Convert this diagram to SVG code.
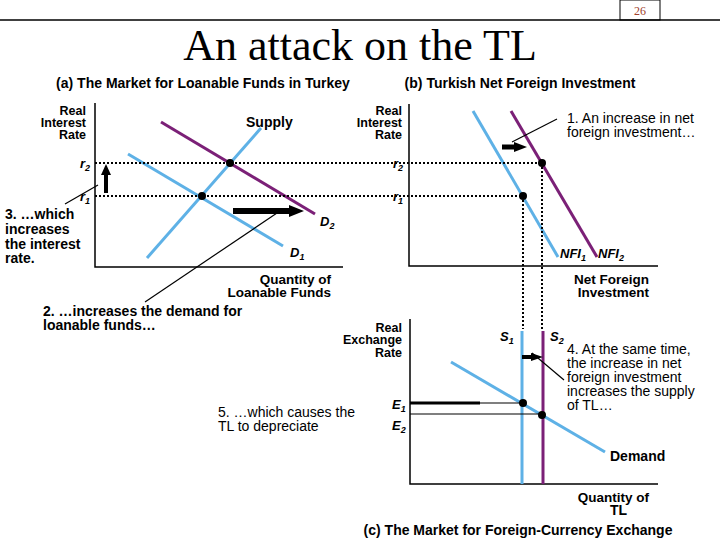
<svg xmlns="http://www.w3.org/2000/svg" width="720" height="540" viewBox="0 0 720 540">
<defs>
<style>
.b{font-family:"Liberation Sans",Arial,sans-serif;font-weight:bold;font-size:14px;fill:#000}
.q{font-family:"Liberation Sans",Arial,sans-serif;font-weight:bold;font-size:13.5px;fill:#000;text-anchor:end}
.h{font-family:"Liberation Sans",Arial,sans-serif;font-weight:bold;font-size:14px;fill:#000;text-anchor:middle}
.x{font-family:"Liberation Sans",Arial,sans-serif;font-weight:bold;font-size:12.5px;fill:#000;text-anchor:end}
.r{font-family:"Liberation Sans",Arial,sans-serif;font-size:14px;fill:#000}
.i{font-family:"Liberation Sans",Arial,sans-serif;font-weight:bold;font-style:italic;font-size:13px;fill:#000}
.ax{stroke:#000;stroke-width:1.5;fill:none}
.blue{stroke:#5eb1e6;stroke-width:3;fill:none}
.pur{stroke:#7b2077;stroke-width:3;fill:none}
.dash{stroke:#000;stroke-width:2;stroke-dasharray:2 2;fill:none}
.thin{stroke:#000;stroke-width:1.2;fill:none}
.sub{font-size:9px}
</style>
</defs>

<g id="header">
<line x1="0" y1="20" x2="720" y2="20" stroke="#000" stroke-width="1.5"/>
<rect x="620" y="0" width="40" height="20" fill="none" stroke="#000" stroke-width="1"/>
<text x="640" y="15" text-anchor="middle" font-family="'Liberation Serif',serif" font-size="12" fill="#a0402a">26</text>
<text x="360" y="60" text-anchor="middle" font-family="'Liberation Serif',serif" font-size="44" fill="#000">An attack on the TL</text>
</g>

<g id="panel-a">
<text class="h" x="203" y="88">(a) The Market for Loanable Funds in Turkey</text>
<path class="ax" d="M95,103 V267 H343"/>
<text class="x" x="86" y="115">Real</text>
<text class="x" x="86" y="127">Interest</text>
<text class="x" x="86" y="139">Rate</text>
<text class="b" x="246" y="127">Supply</text>
<line class="blue" x1="147" y1="258" x2="261" y2="128"/>
<line class="blue" x1="128" y1="154" x2="283" y2="246"/>
<line class="pur" x1="161" y1="122" x2="315" y2="214"/>
<text class="i" x="80" y="168">r<tspan class="sub" dy="3">2</tspan></text>
<text class="i" x="80" y="201">r<tspan class="sub" dy="3">1</tspan></text>
<text class="i" x="320" y="226">D<tspan class="sub" dy="3">2</tspan></text>
<text class="i" x="290" y="257">D<tspan class="sub" dy="3">1</tspan></text>
<text class="q" x="331" y="284">Quantity of</text>
<text class="q" x="331" y="297">Loanable Funds</text>
<text class="b" x="5" y="219">3. …which</text>
<text class="b" x="5" y="234">increases</text>
<text class="b" x="5" y="249">the interest</text>
<text class="b" x="5" y="263">rate.</text>
<text class="b" x="43" y="316">2. …increases the demand for</text>
<text class="b" x="43" y="330">loanable funds…</text>
</g>

<g id="panel-b">
<text class="h" x="520" y="88">(b) Turkish Net Foreign Investment</text>
<path class="ax" d="M409,104 V266 H658"/>
<text class="x" x="402" y="115">Real</text>
<text class="x" x="402" y="127">Interest</text>
<text class="x" x="402" y="139">Rate</text>
<line class="blue" x1="473" y1="111" x2="558" y2="257"/>
<line class="pur" x1="511" y1="111" x2="597" y2="257"/>
<text class="i" x="393" y="168">r<tspan class="sub" dy="3">2</tspan></text>
<text class="i" x="393" y="201">r<tspan class="sub" dy="3">1</tspan></text>
<text class="i" x="560" y="258">NFI<tspan class="sub" dy="3">1</tspan></text>
<text class="i" x="598" y="258">NFI<tspan class="sub" dy="3">2</tspan></text>
<text class="q" x="649" y="284">Net Foreign</text>
<text class="q" x="649" y="297">Investment</text>
<text class="r" x="567" y="123">1. An increase in net</text>
<text class="r" x="567" y="137">foreign investment…</text>
</g>

<g id="panel-c">
<path class="ax" d="M410,319 V484 H658"/>
<text class="x" x="402" y="332">Real</text>
<text class="x" x="402" y="344">Exchange</text>
<text class="x" x="402" y="357">Rate</text>
<line class="blue" x1="522" y1="331" x2="522" y2="484"/>
<line class="pur" x1="543" y1="331" x2="543" y2="484"/>
<line class="blue" x1="451" y1="362" x2="605" y2="452"/>
<text class="i" x="500" y="341">S<tspan class="sub" dy="3">1</tspan></text>
<text class="i" x="550" y="341">S<tspan class="sub" dy="3">2</tspan></text>
<text class="i" x="392" y="409">E<tspan class="sub" dy="3">1</tspan></text>
<text class="i" x="392" y="430">E<tspan class="sub" dy="3">2</tspan></text>
<text class="b" x="610" y="461">Demand</text>
<text class="q" x="649" y="502">Quantity of</text>
<text class="b" x="610" y="515">TL</text>
<text class="r" x="567" y="354">4. At the same time,</text>
<text class="r" x="567" y="368">the increase in net</text>
<text class="r" x="567" y="382">foreign investment</text>
<text class="r" x="567" y="396">increases the supply</text>
<text class="r" x="567" y="410">of TL…</text>
<text class="r" x="218" y="417">5. …which causes the</text>
<text class="r" x="218" y="431">TL to depreciate</text>
<text class="h" x="518" y="535">(c) The Market for Foreign-Currency Exchange</text>
</g>

<g id="connectors">
<line class="dash" x1="95" y1="163" x2="542" y2="163"/>
<line class="dash" x1="95" y1="196" x2="523" y2="196"/>
<line class="dash" x1="542" y1="163" x2="542" y2="329"/>
<line class="dash" x1="523" y1="196" x2="523" y2="329"/>
<line x1="410" y1="403" x2="523" y2="403" stroke="#000" stroke-width="1.2"/>
<line x1="410" y1="403" x2="480" y2="403" stroke="#000" stroke-width="3"/>
<line x1="410" y1="414" x2="542" y2="414" stroke="#000" stroke-width="1.2"/>
<circle cx="230" cy="163" r="4"/>
<circle cx="202" cy="196" r="4"/>
<circle cx="542" cy="163" r="4"/>
<circle cx="523" cy="196" r="4"/>
<circle cx="523" cy="403" r="4"/>
<circle cx="542" cy="415" r="4"/>
<line x1="106" y1="193" x2="106" y2="173" stroke="#000" stroke-width="4"/>
<polygon points="101,175 111,175 106,164"/>
<line x1="233" y1="211" x2="291" y2="211" stroke="#000" stroke-width="6"/>
<polygon points="289,205 304,211 289,217"/>
<line x1="502" y1="147" x2="516" y2="147" stroke="#000" stroke-width="5"/>
<polygon points="514,142 527,147 514,152"/>
<line x1="522" y1="357" x2="533" y2="357" stroke="#000" stroke-width="4"/>
<polygon points="531,353 543,357 531,361"/>
<line class="thin" x1="65" y1="204" x2="98" y2="185"/>
<line class="thin" x1="145" y1="302" x2="277" y2="213"/>
<line class="thin" x1="557" y1="119" x2="512" y2="142"/>
<line class="thin" x1="564" y1="380" x2="532" y2="353"/>
</g>
</svg>
